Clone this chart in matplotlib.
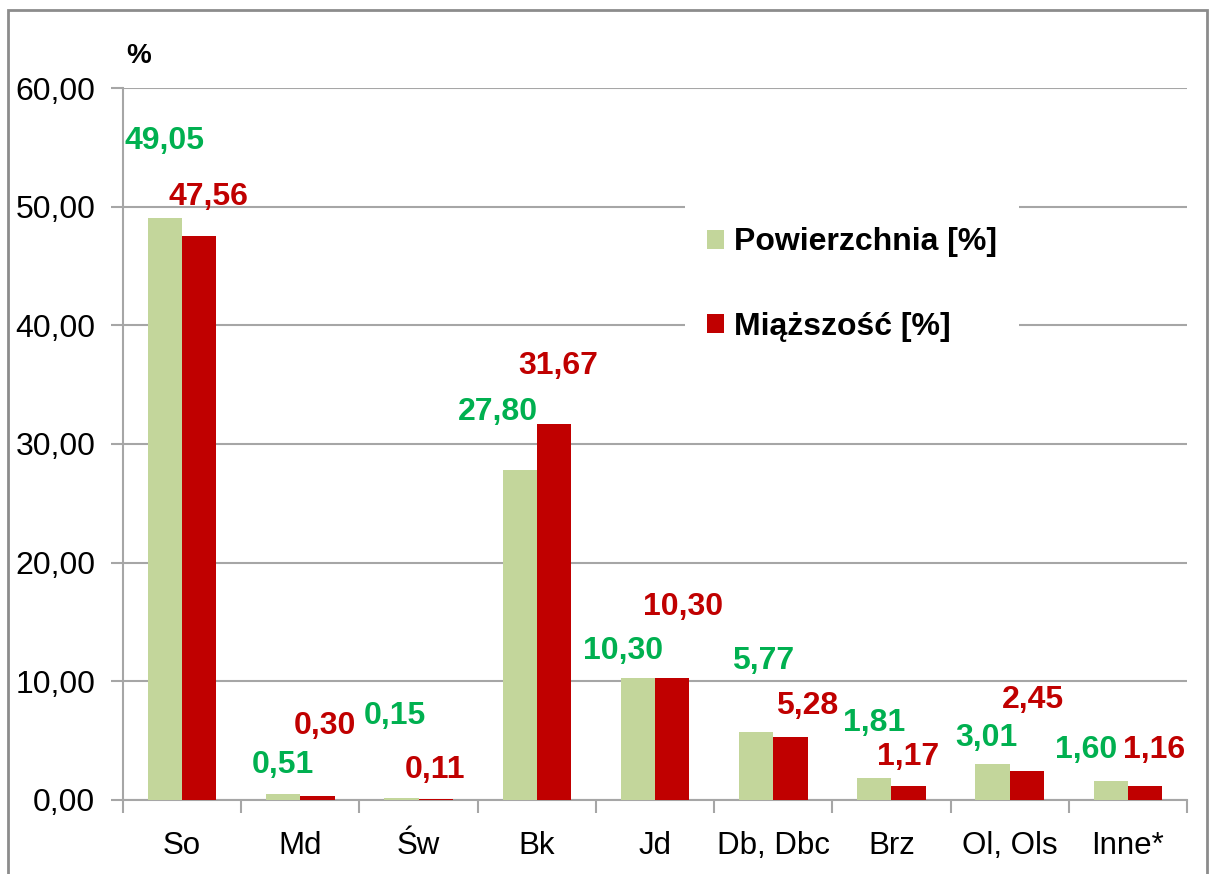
import numpy as np
import matplotlib.pyplot as plt
from matplotlib.patches import Rectangle

plt.rcParams['font.family'] = ['Liberation Sans', 'DejaVu Sans']

categories = ['So', 'Md', 'Św', 'Bk', 'Jd', 'Db, Dbc', 'Brz', 'Ol, Ols', 'Inne*']
powierzchnia = [49.05, 0.51, 0.15, 27.80, 10.30, 5.77, 1.81, 3.01, 1.60]
miazszosc = [47.56, 0.30, 0.11, 31.67, 10.30, 5.28, 1.17, 2.45, 1.16]
pow_labels = ['49,05', '0,51', '0,15', '27,80', '10,30', '5,77', '1,81', '3,01', '1,60']
mia_labels = ['47,56', '0,30', '0,11', '31,67', '10,30', '5,28', '1,17', '2,45', '1,16']
# label positions were dragged around by hand in the original
pow_lab_dx = [-0.15, -0.15, -0.20, -0.33, -0.27, -0.09, -0.15, -0.20, -0.35]
pow_lab_y = [55.5, 2.95, 7.1, 32.7, 12.55, 11.7, 6.5, 5.2, 4.2]
mia_lab_dx = [0.22, 0.21, 0.14, 0.18, 0.24, 0.29, 0.14, 0.20, 0.22]
mia_lab_y = [50.8, 6.2, 2.55, 36.6, 16.3, 7.9, 3.6, 8.4, 4.2]

green = '#C3D69B'
red = '#C00000'
lab_green = '#00B050'
grid_c = '#A6A6A6'

fig = plt.figure(figsize=(12.11, 8.74), dpi=100)
fig.patches.append(Rectangle((8 / 1211, -0.05), 1199 / 1211, 1.05 - 10 / 874,
                             transform=fig.transFigure, fill=False,
                             edgecolor='#8C8C8C', linewidth=2))
ax = fig.add_axes([0.1016, 0.0847, 0.8786, 0.8146])

x = np.arange(len(categories))
w = 0.29
ax.bar(x - w / 2, powierzchnia, w, color=green, label='Powierzchnia [%]', zorder=3)
ax.bar(x + w / 2, miazszosc, w, color=red, label='Miąższość [%]', zorder=3)

for i in range(len(categories)):
    ax.text(x[i] + pow_lab_dx[i], pow_lab_y[i], pow_labels[i], color=lab_green,
            fontsize=23, fontweight='bold', ha='center', va='center', zorder=4)
    ax.text(x[i] + mia_lab_dx[i], mia_lab_y[i], mia_labels[i], color=red,
            fontsize=23, fontweight='bold', ha='center', va='center', zorder=4)

ax.set_xlim(-0.5, len(categories) - 0.5)
ax.set_ylim(0, 60)
ax.set_yticks(np.arange(0, 61, 10))
ax.set_yticklabels([f'{v:.2f}'.replace('.', ',') for v in np.arange(0, 61, 10)])
ax.set_xticks(x)
ax.set_xticklabels(categories)
ax.set_xticks(np.arange(-0.5, len(categories)), minor=True)
ax.tick_params(axis='x', which='major', length=0, labelsize=22.5, pad=22)
ax.tick_params(axis='x', which='minor', length=9, color=grid_c, width=1.5)
ax.tick_params(axis='y', length=9, color=grid_c, width=1.5, labelsize=23, pad=11)

ax.yaxis.grid(True, color=grid_c, linewidth=1.5, zorder=0)
ax.set_axisbelow(True)
for s in ['top', 'right']:
    ax.spines[s].set_visible(False)
for s in ['left', 'bottom']:
    ax.spines[s].set_color(grid_c)
    ax.spines[s].set_linewidth(1.5)

ax.text(0.003, 1.045, '%', transform=ax.transAxes, fontsize=20,
        fontweight='bold', ha='left', va='center')

leg = ax.legend(loc='upper left', bbox_to_anchor=(0.513, 0.858), frameon=True,
                fancybox=False, edgecolor='none', framealpha=1,
                prop={'size': 23, 'weight': 'bold'}, handlelength=0.53,
                handleheight=0.53, handletextpad=0.3, labelspacing=1.7,
                borderpad=0.7)
leg.set_zorder(2.5)

fig.savefig('out.png', dpi=100)
